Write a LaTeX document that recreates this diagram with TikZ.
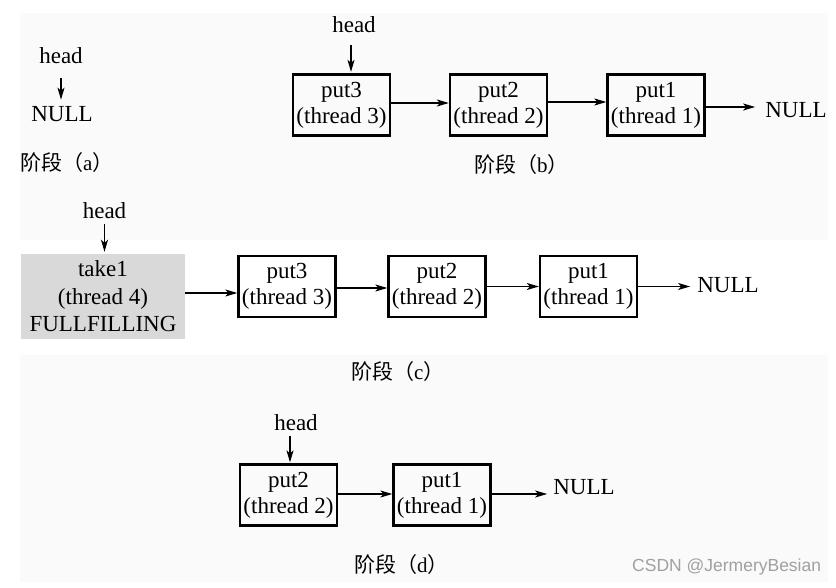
\documentclass[tikz,border=0pt]{standalone}
\usepackage{fontspec}
\setmainfont{Liberation Serif}
\newfontfamily\cjk{Noto Sans CJK SC}
\newfontfamily\wmfont{Liberation Sans}
\usetikzlibrary{arrows.meta}
\definecolor{bgc}{HTML}{FAFAFA}
\definecolor{takefill}{HTML}{D9D9D9}
\definecolor{wmc}{HTML}{A0A0A0}
\begin{document}
\begin{tikzpicture}[x=1pt,y=-1pt,
  txt/.style={font=\fontsize{23}{26}\selectfont, inner sep=0pt},
  box/.style={draw, line width=2.3pt, minimum width=97pt, minimum height=61pt,
    inner sep=0pt, align=center, font=\fontsize{23}{26}\selectfont},
  graybox/.style={fill=takefill, draw=none, minimum width=164pt, minimum height=85pt,
    inner sep=0pt, align=center, font=\fontsize{23}{27.5}\selectfont},
  stage/.style={anchor=west, inner sep=0pt, font=\fontsize{21}{24}\selectfont},
  arr/.style={line width=1.3pt, -{Stealth[length=12pt,width=7pt,inset=3pt]}}
]
\useasboundingbox (0,0) rectangle (836,588);
\fill[white] (0,0) rectangle (836,588);
\fill[bgc] (20,13) rectangle (828,582);
\fill[white] (20,240) rectangle (828,355);

% stage (a)
\node[txt] (ha) at (61,56) {head};
\node[txt] (na) at (62,114.5) {NULL};
\draw[arr, shorten <=14pt, shorten >=7pt] (ha.south) -- (ha.south |- na.north);
\node[stage] (la) at (20,163) {{\cjk 阶段（}a{\cjk ）}};

% stage (b)
\node[box] (p3b) at (341.5,105) {put3\\(thread 3)};
\node[box] (p2b) at (498.5,105) {put2\\(thread 2)};
\node[box] (p1b) at (656,105) {put1\\(thread 1)};
\node[txt] (nb) at (796,110) {NULL};
\node[txt] (hb) at (354,25) {head};
\draw[arr, shorten <=12pt, shorten >=1.5pt] ([xshift=-3pt]hb.south) -- ([xshift=-3pt]hb.south |- p3b.north);
\draw[arr] ([yshift=2pt]p3b.east) -- ([yshift=2pt]p2b.west);
\draw[arr] ([yshift=3pt]p2b.east) -- ([yshift=3pt]p1b.west);
\draw[arr, shorten >=10pt] ([yshift=-2pt]p1b.east) -- ([yshift=-2pt]p1b.east -| nb.west);
\node[stage] (lb) at (474,165) {{\cjk 阶段（}b{\cjk ）}};

% stage (c)
\node[graybox] (t1c) at (103,296.5) {take1\\(thread 4)\\FULLFILLING};
\node[box] (p3c) at (287,286.5) {put3\\(thread 3)};
\node[box] (p2c) at (437,286.5) {put2\\(thread 2)};
\node[box] (p1c) at (588.5,286.5) {put1\\(thread 1)};
\node[txt] (nc) at (728,285) {NULL};
\node[txt] (hc) at (104.5,210.5) {head};
\draw[arr, shorten <=5pt, shorten >=2pt] (hc.south) -- (hc.south |- t1c.north);
\draw[arr] ([yshift=3.5pt]t1c.east) -- ([yshift=3.5pt]t1c.east -| p3c.west);
\draw[arr] ([yshift=-1.5pt]p3c.east) -- ([yshift=-1.5pt]p2c.west);
\draw[arr] (p2c.east) -- (p1c.west);
\draw[arr, shorten >=7pt] (p1c.east) -- (p1c.east -| nc.west);
\node[stage] (lc) at (351,372) {{\cjk 阶段（}c{\cjk ）}};

% stage (d)
\node[box] (p2d) at (288.5,495) {put2\\(thread 2)};
\node[box] (p1d) at (442,495) {put1\\(thread 1)};
\node[txt] (nd) at (584,487.5) {NULL};
\node[txt] (hd) at (296,422.5) {head};
\draw[arr, shorten <=5pt, shorten >=1pt] ([xshift=-6pt]hd.south) -- ([xshift=-6pt]hd.south |- p2d.north);
\draw[arr] ([yshift=1pt]p2d.east) -- ([yshift=1pt]p1d.west);
\draw[arr, shorten >=6pt] ([yshift=1pt]p1d.east) -- ([yshift=1pt]p1d.east -| nd.west);
\node[stage] (ld) at (354,565) {{\cjk 阶段（}d{\cjk ）}};

% watermark
\node[anchor=west, inner sep=0pt, text=wmc, font=\wmfont\fontsize{17.5}{20}\selectfont] (wm) at (632,567) {CSDN @JermeryBesian};
\end{tikzpicture}
\end{document}
